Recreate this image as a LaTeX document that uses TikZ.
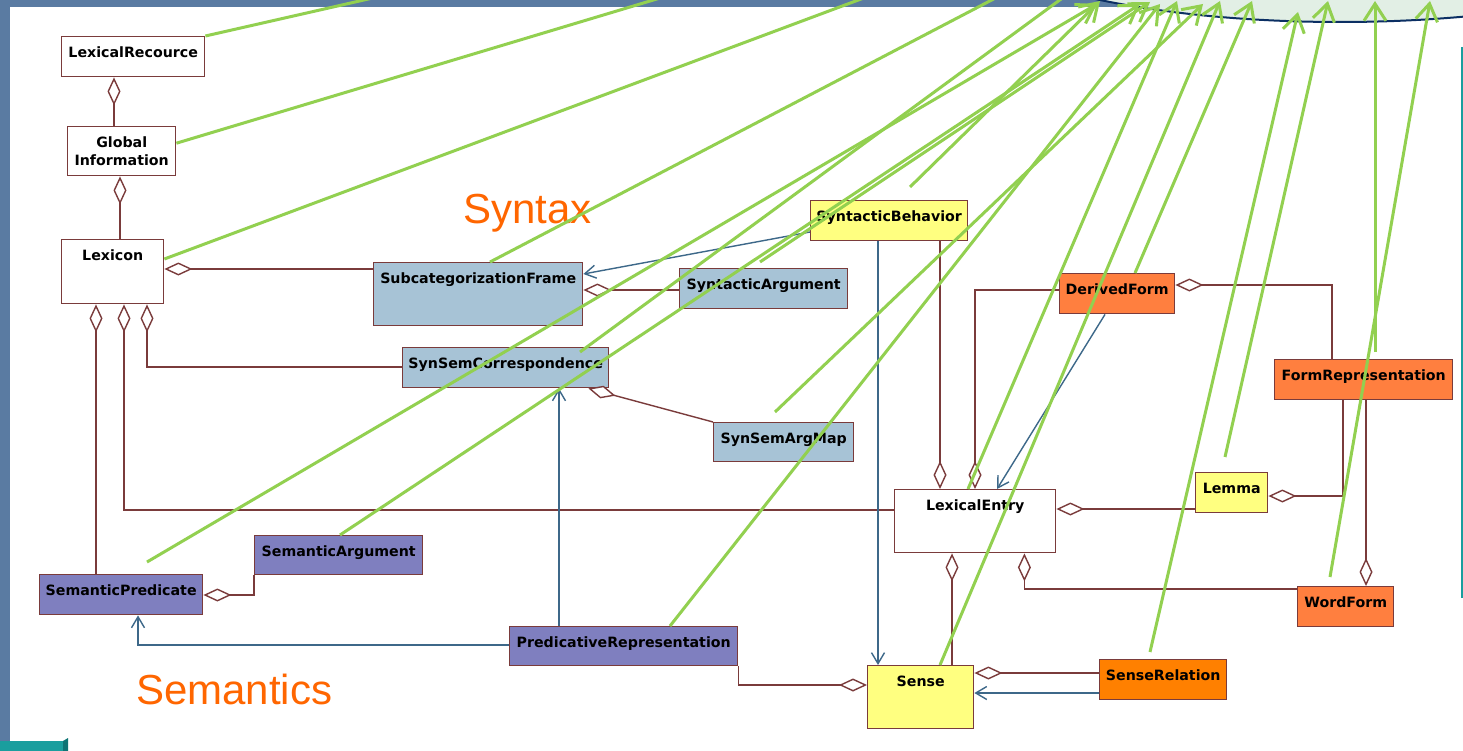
\documentclass[tikz,border=0pt]{standalone}
\usepackage{fontspec}
\newfontfamily\dvs{DejaVu Sans}
\newfontfamily\lib{Liberation Sans}
\usetikzlibrary{arrows.meta,calc}
\definecolor{bgblue}{HTML}{5A7BA2}
\definecolor{brd}{HTML}{7A3B3B}
\definecolor{navc}{HTML}{3D6889}
\definecolor{grn}{HTML}{92D050}
\definecolor{cblue}{HTML}{A7C3D6}
\definecolor{cyellow}{HTML}{FFFF80}
\definecolor{corange}{HTML}{FF7F3F}
\definecolor{corangeb}{HTML}{FF8000}
\definecolor{cpurple}{HTML}{7F7FBF}
\definecolor{orlbl}{HTML}{FF6600}
\definecolor{ellfill}{HTML}{E2EFE5}
\definecolor{elldraw}{HTML}{0B2F63}
\definecolor{tealc}{HTML}{1A9E9E}
\definecolor{tealdark}{HTML}{0E7475}
\tikzset{
  cls/.style={draw=brd, line width=1.4pt, inner sep=0pt, anchor=north west,
    text height=21pt, font=\dvs\bfseries\fontsize{14.2}{17}\selectfont, text=black},
  aggr/.style={draw=brd, line width=1.4pt, -{Diamond[open,length=28pt,width=13pt,line width=1.4pt,fill=white]}},
  nav/.style={draw=navc, line width=1.4pt, -{Straight Barb[length=11pt,width=13pt,line width=1.4pt]}},
  grl/.style={draw=grn, line width=3pt},
  gra/.style={draw=grn, line width=3pt, -{Straight Barb[length=17pt,width=22pt,line width=3pt]}},
  area/.style={font=\lib\fontsize{42}{50}\selectfont, text=orlbl, inner sep=0pt, anchor=base west}
}
\begin{document}
\begin{tikzpicture}[x=1pt,y=-1pt]
\useasboundingbox (0,0) rectangle (1463,751);
\begin{scope}
\clip (0,0) rectangle (1463,751);
% background
\fill[bgblue] (0,0) rectangle (1463,751);
\fill[white] (10,7) rectangle (1463,751);
\fill[ellfill] (1340,-88) ellipse [x radius=400, y radius=110];
\draw[elldraw, line width=2pt] (1340,-88) ellipse [x radius=400, y radius=110];
\draw[tealc, line width=2pt] (1461.5,47) -- (1461.5,598);
\fill[tealc] (0,741) rectangle (63,751);
\fill[tealdark] (63,741) -- (68,738) -- (68,751) -- (63,751) -- cycle;

% classes
\node[cls, minimum width=143pt, text depth=19pt] (lr) at (61,36) {LexicalRecource};
\node[draw=brd, line width=1.4pt, inner sep=0pt, anchor=north west, minimum width=108pt, minimum height=49pt,
  align=center, font=\dvs\bfseries\fontsize{14.2}{18}\selectfont] (gi) at (67,126) {Global\\Information};
\node[cls, fill=white, minimum width=102pt, text depth=43pt] (lex) at (61,239) {Lexicon};
\node[cls, fill=cblue, minimum width=209pt, text depth=42pt] (scf) at (373,262) {SubcategorizationFrame};
\node[cls, fill=cblue, minimum width=168pt, text depth=19pt] (sa) at (679,268) {SyntacticArgument};
\node[cls, fill=cblue, minimum width=206pt, text depth=19pt] (ssc) at (402,347) {SynSemCorrespondence};
\node[cls, fill=cblue, minimum width=140pt, text depth=18pt] (ssam) at (713,422) {SynSemArgMap};
\node[cls, fill=cyellow, minimum width=157pt, text depth=19pt] (sb) at (810,200) {SyntacticBehavior};
\node[cls, fill=corange, minimum width=115pt, text depth=19pt] (df) at (1059,273) {DerivedForm};
\node[cls, fill=corange, minimum width=178pt, text depth=19pt] (fr) at (1274,359) {FormRepresentation};
\node[cls, fill=cyellow, minimum width=72pt, text depth=19pt] (lem) at (1195,472) {Lemma};
\node[cls, fill=white, minimum width=161pt, text depth=42pt] (le) at (894,489) {LexicalEntry};
\node[cls, fill=corange, minimum width=96pt, text depth=19pt] (wf) at (1297,586) {WordForm};
\node[cls, fill=corangeb, minimum width=127pt, text depth=19pt] (sr) at (1099,659) {SenseRelation};
\node[cls, fill=cyellow, minimum width=106pt, text depth=42pt] (se) at (867,665) {Sense};
\node[cls, fill=cpurple, minimum width=228pt, text depth=18pt] (pr) at (509,626) {PredicativeRepresentation};
\node[cls, fill=cpurple, minimum width=168pt, text depth=18pt] (sarg) at (254,535) {SemanticArgument};
\node[cls, fill=cpurple, minimum width=163pt, text depth=19pt] (sp) at (39,574) {SemanticPredicate};

% aggregations
\draw[aggr] ([xshift=47pt]gi.north west) -- ([xshift=53pt]lr.south west);
\draw[aggr] ([xshift=59pt]lex.north west) -- ([xshift=53pt]gi.south west);
\draw[aggr] ([yshift=-7pt]scf.north west) -- ([yshift=-30pt]lex.north east);
\draw[aggr] ([yshift=-20pt]ssc.north west) -| ([xshift=86pt]lex.south west);
\draw[aggr] ([yshift=-21pt]le.north west) -| ([xshift=63pt]lex.south west);
\draw[aggr] ([xshift=57pt]sp.north west) -- ([xshift=35pt]lex.south west);
\draw[aggr] ([yshift=-22pt]sa.north west) -- ([yshift=-28pt]scf.north east);
\draw[aggr] (ssam.north west) -- ([xshift=-21pt]ssc.south east);
\draw[aggr] ([xshift=130pt]sb.south west) -- ([xshift=46pt]le.north west);
\draw[aggr] ([yshift=-17pt]df.north west) -| ([xshift=81pt]le.north west);
\draw[aggr] ([xshift=58pt]fr.north west) |- ([yshift=-12pt]df.north east);
\draw[aggr] ([xshift=69pt]fr.south west) |- ([yshift=-24pt]lem.north east);
\draw[aggr] ([xshift=92pt]fr.south west) -- ([xshift=69pt]wf.north west);
\draw[aggr] ([yshift=-37pt]lem.north west) -- ([yshift=-20pt]le.north east);
\draw[aggr] ([yshift=-3pt]wf.north west) -| ([xshift=-32pt]le.south east);
\draw[aggr] ([xshift=85pt]se.north west) -- ([xshift=58pt]le.south west);
\draw[aggr] ([yshift=-14pt]sr.north west) -- ([yshift=-8pt]se.north east);
\draw[aggr] (pr.south east) |- ([yshift=-20pt]se.north west);
\draw[aggr] (sarg.south west) |- ([yshift=-21pt]sp.north east);

% navigable associations
\draw[nav] ([yshift=-32pt]sb.north west) -- ([yshift=-12pt]scf.north east);
\draw[nav] ([xshift=68pt]sb.south west) -- ([xshift=11pt]se.north west);
\draw[nav] ([xshift=46pt]df.south west) -- ([xshift=103pt]le.north west);
\draw[nav] ([xshift=50pt]pr.north west) -- ([xshift=157pt]ssc.south west);
\draw[nav] ([yshift=-19pt]pr.north west) -| ([xshift=99pt]sp.south west);
\draw[nav] ([yshift=-34pt]sr.north west) -- ([yshift=-28pt]se.north east);

% area labels
\node[area] (syn) at (463,224) {Syntax};
\node[area] (sem) at (136,704) {Semantics};

% green pointer lines
\coordinate (ta) at (452,-20);
\coordinate (tb) at (720,-20);
\coordinate (tc) at (912,-20);
\coordinate (td) at (1030,-20);
\coordinate (sk) at (580,352);  \coordinate (tk) at (1087,-20);
\coordinate (se1) at (147,562); \coordinate (te) at (1097,4);
\coordinate (tf) at (1140,4);
\coordinate (sj) at (760,262);  \coordinate (tj) at (1150,2);
\coordinate (si) at (910,187);  \coordinate (ti) at (1100,1);
\coordinate (tg) at (1160,4);
\coordinate (sh) at (775,412);  \coordinate (th) at (1203,4);
\coordinate (tr) at (1177,1);
\coordinate (tq) at (1220,1);
\coordinate (tp) at (1252,1);
\coordinate (so) at (1150,652); \coordinate (to) at (1298,12);
\coordinate (sn) at (1225,457); \coordinate (tn) at (1328,1);
\coordinate (sl) at (1375,352); \coordinate (tl) at (1375,1);
\coordinate (sm) at (1330,577); \coordinate (tm) at (1430,1);

\draw[grl] (lr.north east) -- (ta);
\draw[grl] ([yshift=8pt]gi.east) -- (tb);
\draw[grl] ([yshift=-20pt]lex.north east) -- (tc);
\draw[grl] ([xshift=117pt]scf.north west) -- (td);
\draw[grl] (sk) -- (tk);
\draw[gra] (se1) -- (te);
\draw[gra] ([xshift=86pt]sarg.north west) -- (tf);
\draw[gra] (sj) -- (tj);
\draw[gra] (si) -- (ti);
\draw[gra] ([xshift=161pt]pr.north west) -- (tg);
\draw[gra] (sh) -- (th);
\draw[gra] ([xshift=74pt]le.north west) -- (tr);
\draw[gra] ([xshift=73pt]se.north west) -- (tq);
\draw[gra] ([xshift=76pt]df.north west) -- (tp);
\draw[gra] (so) -- (to);
\draw[gra] (sn) -- (tn);
\draw[gra] (sl) -- (tl);
\draw[gra] (sm) -- (tm);
\end{scope}
\end{tikzpicture}
\end{document}
